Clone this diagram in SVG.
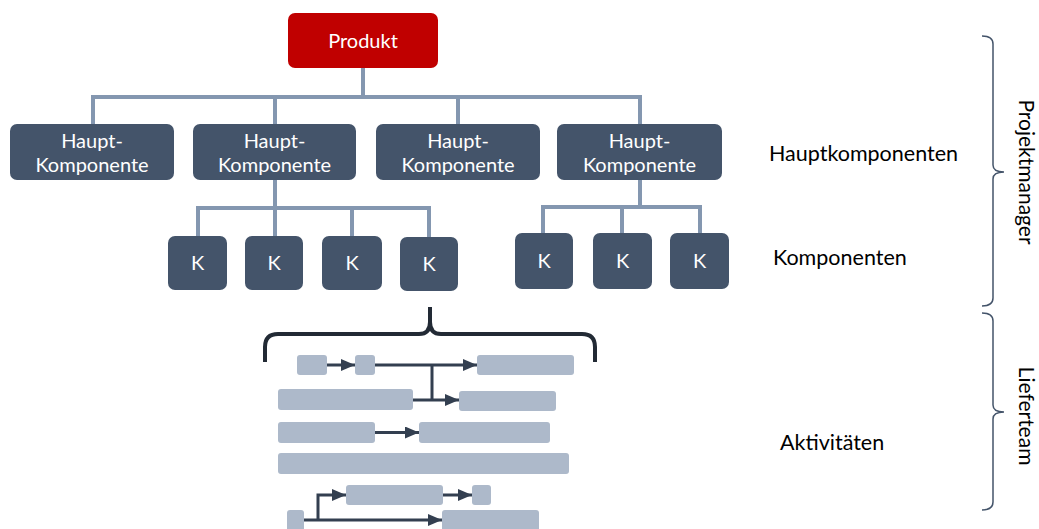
<svg xmlns="http://www.w3.org/2000/svg" width="1039" height="529" viewBox="0 0 1039 529">
  <style>
    .root { fill: #C00000; }
    .node { fill: #44546A; }
    .bar { fill: #ADB9CA; }
    .ntext { font-family: "Lato", "Open Sans", sans-serif; font-size: 20px; fill: #FFFFFF; text-anchor: middle; }
    .label { font-family: "Lato", "Open Sans", sans-serif; font-size: 21.5px; fill: #000000; }
    .side { font-family: "Lato", "Open Sans", sans-serif; font-size: 21px; fill: #000000; text-anchor: middle; }
    .tree { fill: none; stroke: #8497B0; stroke-width: 4; }
    .flow { fill: none; stroke: #333F50; stroke-width: 3; }
    .brace { fill: none; stroke: #44546A; stroke-width: 1.5; }
    .bigbrace { fill: none; stroke: #222A35; stroke-width: 4; }
  </style>
  <defs>
    <marker id="arrow" viewBox="0 0 14 12" refX="14" refY="6" markerWidth="14" markerHeight="12" markerUnits="userSpaceOnUse" orient="auto">
      <path d="M0 0 L14 6 L0 12 z" fill="#333F50"/>
    </marker>
  </defs>

  <!-- tree connectors -->
  <g id="connectors">
    <path class="tree" d="M363 68 V97 M93 124 V97 H640 V124 M275 97 V124 M458 97 V124"/>
    <path class="tree" d="M275 180 V208 M198 236 V208 H429 V237 M275 208 V236 M352 208 V236"/>
    <path class="tree" d="M640 180 V207 M543 233 V207 H700 V233 M622 207 V233"/>
  </g>

  <!-- top node -->
  <g id="produkt">
    <rect class="root" x="288" y="13" width="150" height="55" rx="7"/>
    <text class="ntext" x="363" y="48">Produkt</text>
  </g>

  <!-- main components -->
  <g id="haupt1">
    <rect class="node" x="10" y="124" width="164" height="56" rx="7"/>
    <text class="ntext" x="92" y="148">Haupt-</text>
    <text class="ntext" x="92" y="172">Komponente</text>
  </g>
  <g id="haupt2">
    <rect class="node" x="193" y="124" width="163" height="56" rx="7"/>
    <text class="ntext" x="274.5" y="148">Haupt-</text>
    <text class="ntext" x="274.5" y="172">Komponente</text>
  </g>
  <g id="haupt3">
    <rect class="node" x="376" y="124" width="164" height="56" rx="7"/>
    <text class="ntext" x="458" y="148">Haupt-</text>
    <text class="ntext" x="458" y="172">Komponente</text>
  </g>
  <g id="haupt4">
    <rect class="node" x="557" y="124" width="165" height="56" rx="7"/>
    <text class="ntext" x="639.5" y="148">Haupt-</text>
    <text class="ntext" x="639.5" y="172">Komponente</text>
  </g>

  <!-- components -->
  <g id="k1">
    <rect class="node" x="168" y="236" width="59" height="54" rx="7"/>
    <text class="ntext" x="197.5" y="270">K</text>
  </g>
  <g id="k2">
    <rect class="node" x="245" y="236" width="58" height="54" rx="7"/>
    <text class="ntext" x="274" y="270">K</text>
  </g>
  <g id="k3">
    <rect class="node" x="322" y="236" width="60" height="54" rx="7"/>
    <text class="ntext" x="352" y="270">K</text>
  </g>
  <g id="k4">
    <rect class="node" x="400" y="237" width="58" height="54" rx="7"/>
    <text class="ntext" x="429" y="271">K</text>
  </g>
  <g id="k5">
    <rect class="node" x="515" y="233" width="58" height="56" rx="7"/>
    <text class="ntext" x="544" y="268">K</text>
  </g>
  <g id="k6">
    <rect class="node" x="593" y="233" width="59" height="56" rx="7"/>
    <text class="ntext" x="622.5" y="268">K</text>
  </g>
  <g id="k7">
    <rect class="node" x="670" y="233" width="59" height="56" rx="7"/>
    <text class="ntext" x="699.5" y="268">K</text>
  </g>

  <!-- bracket over the activities -->
  <path class="bigbrace" d="M265 362 V347 Q265 334 278 334 H419 Q430 334 430 322 V307 M430 322 Q430 334 441 334 H582 Q595 334 595 347 V362"/>

  <!-- activity bars -->
  <g id="activities">
    <rect class="bar" x="297" y="355" width="30" height="20" rx="3"/>
    <rect class="bar" x="355" y="355" width="20" height="20" rx="3"/>
    <rect class="bar" x="477" y="355" width="97" height="20" rx="3"/>
    <rect class="bar" x="278" y="389" width="135" height="21" rx="3"/>
    <rect class="bar" x="459" y="391" width="97" height="20" rx="3"/>
    <rect class="bar" x="278" y="422" width="97" height="21" rx="3"/>
    <rect class="bar" x="419" y="422" width="131" height="21" rx="3"/>
    <rect class="bar" x="278" y="453" width="291" height="21" rx="3"/>
    <rect class="bar" x="346" y="485" width="97" height="20" rx="3"/>
    <rect class="bar" x="472" y="485" width="19" height="20" rx="3"/>
    <rect class="bar" x="287" y="510" width="17" height="24" rx="3"/>
    <rect class="bar" x="442" y="510" width="97" height="24" rx="3"/>
  </g>

  <!-- activity dependencies -->
  <g id="flows">
    <path class="flow" d="M327 365 H355" marker-end="url(#arrow)"/>
    <path class="flow" d="M375 365 H432" stroke="#595950"/>
    <path class="flow" d="M432 365 H477" marker-end="url(#arrow)"/>
    <path class="flow" d="M432 365 V400"/>
    <path class="flow" d="M413 400 H459" marker-end="url(#arrow)"/>
    <path class="flow" d="M375 432.5 H419" marker-end="url(#arrow)"/>
    <path class="flow" d="M443 495 H472" marker-end="url(#arrow)"/>
    <path class="flow" d="M304 520 H442" marker-end="url(#arrow)"/>
    <path class="flow" d="M318 520 V495 H346" marker-end="url(#arrow)"/>
  </g>

  <!-- level labels -->
  <g id="labels">
    <text class="label" x="769" y="161">Hauptkomponenten</text>
    <text class="label" x="773" y="265">Komponenten</text>
    <text class="label" x="780" y="450">Aktivitäten</text>
  </g>

  <!-- responsibility braces -->
  <g id="projektmanager">
    <path class="brace" d="M982 36 Q993 36 993 44 V165 Q993 172 1004 172 Q993 172 993 179 V298 Q993 306 982 306"/>
    <text class="side" transform="translate(1019 172) rotate(90)">Projektmanager</text>
  </g>
  <g id="lieferteam">
    <path class="brace" d="M982 313 Q993 313 993 321 V405 Q993 412 1004 412 Q993 412 993 419 V502 Q993 510 982 510"/>
    <text class="side" transform="translate(1019 416) rotate(90)">Lieferteam</text>
  </g>
</svg>
